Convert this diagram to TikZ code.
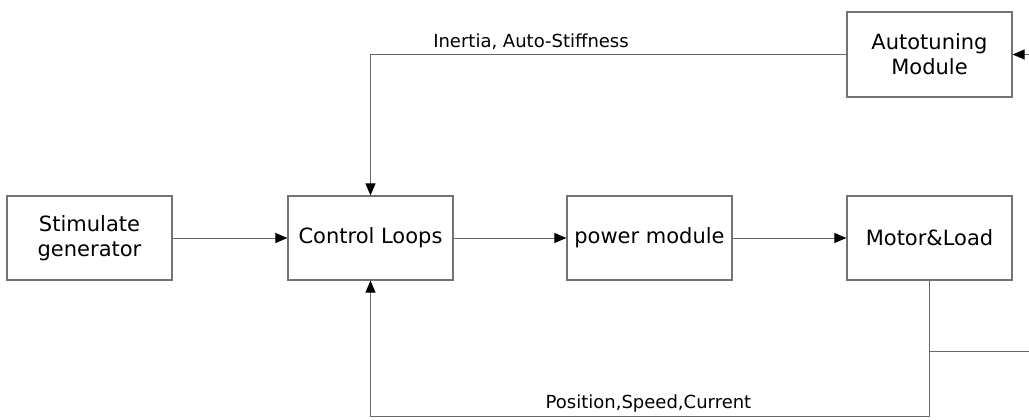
\documentclass[tikz,border=0pt]{standalone}
\usepackage{fontspec}
\setmainfont{DejaVu Sans}
\usetikzlibrary{arrows.meta}
\tikzset{
  blk/.style={draw=black!55, line width=1.2pt, minimum width=165pt, minimum height=84pt, inner sep=0pt, align=center, font=\fontsize{21}{25}\selectfont},
  conn/.style={draw=black!60, line width=1pt},
  arr/.style={conn, -{Triangle[length=12pt,width=10pt,color=black]}},
  lbl/.style={font=\fontsize{18}{21}\selectfont, inner sep=0pt}
}
\begin{document}
\begin{tikzpicture}[x=1pt,y=-1pt]
\useasboundingbox (0,0) rectangle (1029,420);
\node[blk] (sg) at (89.5,238) {Stimulate\\generator};
\node[blk] (cl) at (370.5,238) {Control Loops};
\node[blk] (pm) at (649.5,238) {power module};
\node[blk] (ml) at (929.5,238) {Motor\&Load};
\node[blk, minimum height=85pt] (at) at (929.5,54.5) {Autotuning\\Module};
\draw[arr] (sg) -- (cl);
\draw[arr] (cl) -- (pm);
\draw[arr] (pm) -- (ml);
\draw[arr] (at.west) -| (cl.north);
\coordinate (fbc) at (929.5,416);
\draw[arr] (ml.south) -- (fbc) -| (cl.south);
\coordinate (tap) at (929.5,351);
\coordinate (tapR) at (1029,351);
\draw[conn] (tap) -- (tapR);
\coordinate (inR) at (1029,54.5);
\draw[arr] (inR) -- (at.east);
\node[lbl] (l1) at (531,42) {Inertia, Auto-Stiffness};
\node[lbl] (l2) at (648.5,404) {Position,Speed,Current};
\end{tikzpicture}
\end{document}
